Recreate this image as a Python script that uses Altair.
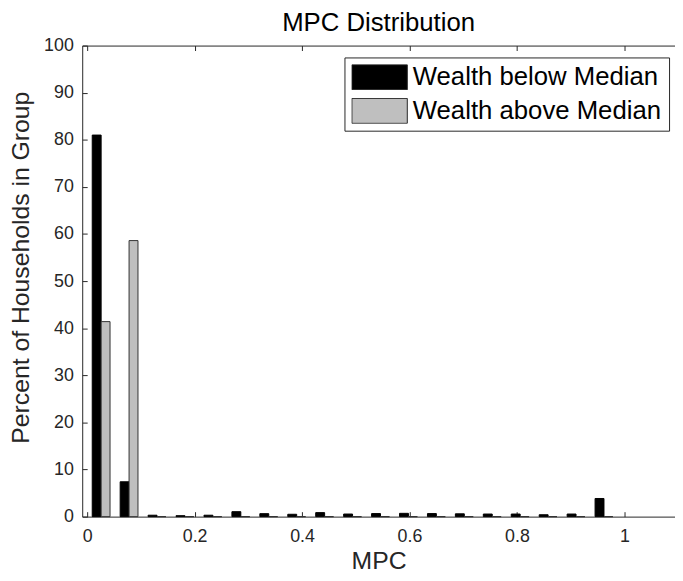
import altair as alt
import pandas as pd

# MPC bin centers (histogram bins)
mpc_centers = [0.026, 0.078, 0.130, 0.182, 0.234, 0.286, 0.338, 0.390, 0.442, 0.494,
               0.546, 0.598, 0.650, 0.702, 0.754, 0.806, 0.858, 0.910, 0.962]
# Percent of households in group
below_median = [81.0, 7.4, 0.3, 0.2, 0.3, 1.05, 0.63, 0.5, 0.85, 0.55,
                0.65, 0.7, 0.65, 0.6, 0.55, 0.55, 0.4, 0.55, 3.85]
above_median = [41.4, 58.6, 0, 0, 0, 0, 0, 0, 0, 0,
                0, 0, 0, 0, 0, 0, 0, 0, 0]
groups = ["Wealth below Median", "Wealth above Median"]
x_ticks = [0, 0.2, 0.4, 0.6, 0.8, 1.0]
y_ticks = [0, 10, 20, 30, 40, 50, 60, 70, 80, 90, 100]

df_below = pd.DataFrame({"mpc": mpc_centers, "pct": below_median, "group": groups[0]})
df_above = pd.DataFrame({"mpc": mpc_centers, "pct": above_median, "group": groups[1]})

W, H = 599, 476
FONT = "Liberation Sans"
AX = "#262626"

xs = alt.Scale(domain=[0, 1.085], nice=False, zero=False)
ys = alt.Scale(domain=[0, 100], nice=False)
color_scale = alt.Scale(domain=groups, range=["#000000", "#bfbfbf"])

legend = alt.Legend(
    title=None, orient="none", legendX=265, legendY=12, direction="vertical",
    symbolType="M-1,-0.45L1,-0.45L1,0.45L-1,0.45Z", symbolSize=3136,
    symbolStrokeColor=AX, symbolStrokeWidth=1, symbolOpacity=1,
    labelFontSize=26, labelFont=FONT, labelColor="#000000", labelOffset=5, labelLimit=500,
    strokeColor=AX, fillColor="white", padding=7, rowPadding=8, clipHeight=26,
)

black = alt.Chart(df_below).mark_bar(size=9, xOffset=-4.5, stroke="#000000", strokeWidth=1).encode(
    x=alt.X("mpc:Q", scale=xs, axis=alt.Axis(
        values=x_ticks, title="MPC", ticks=False, grid=False, domain=True,
        labelPadding=11, titlePadding=3,
        labelExpr="datum.value == 0 ? '0' : datum.value == 1 ? '1' : datum.label")),
    y=alt.Y("pct:Q", scale=ys, axis=alt.Axis(
        values=y_ticks, title="Percent of Households in Group", ticks=False, grid=False,
        domain=True, labelPadding=9, titlePadding=10, titleY=224)),
    color=alt.Color("group:N", scale=color_scale, legend=legend),
)

gray = alt.Chart(df_above).mark_bar(size=9, xOffset=4.5, stroke="#333333", strokeWidth=1).encode(
    x=alt.X("mpc:Q", scale=xs, axis=alt.Axis(
        orient="top", offset=-H, values=x_ticks, labels=False, domain=False, ticks=True,
        tickSize=5, grid=False, title=None)),
    y=alt.Y("pct:Q", scale=ys, axis=alt.Axis(
        orient="right", offset=-W, values=y_ticks, labels=False, domain=False, ticks=True,
        tickSize=5, grid=False, title=None)),
    color=alt.Color("group:N", scale=color_scale, legend=legend),
)

frame = alt.Chart(df_below).mark_bar(size=9, opacity=0).encode(
    x=alt.X("mpc:Q", scale=xs, axis=alt.Axis(
        orient="bottom", offset=-H, values=x_ticks, labels=False, domain=True, ticks=True,
        tickSize=5, grid=False, title=None)),
    y=alt.Y("pct:Q", scale=ys, axis=None),
)

chart = alt.layer(black, gray, frame).resolve_axis(x="independent", y="independent").properties(
    width=W, height=H,
    title=alt.TitleParams("MPC Distribution", fontSize=26, font=FONT, fontWeight="normal",
                          color="#000000", offset=1),
    autosize=alt.AutoSizeParams(type="none"),
    padding={"left": 75, "top": 35, "right": 0, "bottom": 54},
).configure_view(strokeWidth=0).configure_axis(
    labelFont=FONT, labelFontSize=18, labelColor=AX, titleFont=FONT, titleFontSize=25,
    titleFontWeight="normal", titleColor=AX, domainColor=AX, tickColor=AX, domainWidth=1, tickWidth=1,
)

chart.save("out.html", embed_options={"renderer": "svg", "actions": False})
